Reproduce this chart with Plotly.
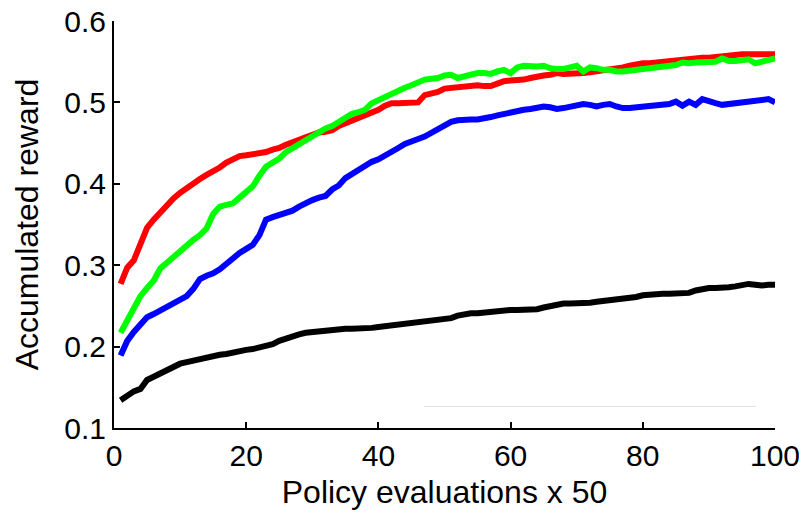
import plotly.graph_objects as go

x = list(range(1, 101))

red = [0.277, 0.297, 0.306, 0.328, 0.346, 0.356, 0.365, 0.372, 0.382, 0.389,
       0.395, 0.402, 0.406, 0.411, 0.415, 0.420, 0.426, 0.431, 0.434, 0.435,
       0.436, 0.437, 0.439, 0.442, 0.444, 0.448, 0.452, 0.454, 0.457, 0.461,
       0.463, 0.464, 0.466, 0.471, 0.474, 0.478, 0.481, 0.484, 0.488, 0.491,
       0.496, 0.499, 0.499, 0.499, 0.499, 0.500, 0.509, 0.511, 0.513, 0.517,
       0.518, 0.519, 0.519, 0.521, 0.521, 0.520, 0.520, 0.523, 0.526, 0.527,
       0.527, 0.528, 0.530, 0.532, 0.533, 0.534, 0.536, 0.535, 0.535, 0.535,
       0.536, 0.537, 0.538, 0.539, 0.540, 0.541, 0.543, 0.545, 0.547, 0.548,
       0.548, 0.549, 0.550, 0.550, 0.551, 0.552, 0.553, 0.554, 0.555, 0.555,
       0.556, 0.557, 0.558, 0.559, 0.559, 0.559, 0.559, 0.559, 0.559, 0.559]

green = [0.217, 0.232, 0.246, 0.262, 0.272, 0.281, 0.296, 0.303, 0.310, 0.319,
         0.326, 0.331, 0.337, 0.345, 0.363, 0.372, 0.374, 0.376, 0.383, 0.389,
         0.397, 0.410, 0.421, 0.426, 0.431, 0.439, 0.444, 0.449, 0.455, 0.460,
         0.464, 0.468, 0.471, 0.476, 0.481, 0.486, 0.488, 0.491, 0.499, 0.503,
         0.507, 0.511, 0.516, 0.518, 0.521, 0.525, 0.528, 0.529, 0.530, 0.533,
         0.534, 0.530, 0.532, 0.534, 0.536, 0.536, 0.535, 0.538, 0.540, 0.536,
         0.543, 0.545, 0.544, 0.544, 0.545, 0.542, 0.541, 0.541, 0.543, 0.545,
         0.538, 0.543, 0.542, 0.540, 0.540, 0.538, 0.538, 0.539, 0.541, 0.541,
         0.542, 0.543, 0.544, 0.545, 0.546, 0.549, 0.548, 0.549, 0.549, 0.550,
         0.550, 0.554, 0.551, 0.551, 0.552, 0.553, 0.548, 0.550, 0.552, 0.554]

blue = [0.189, 0.207, 0.218, 0.228, 0.236, 0.240, 0.244, 0.248, 0.253, 0.257,
        0.262, 0.271, 0.283, 0.287, 0.290, 0.295, 0.302, 0.307, 0.315, 0.320,
        0.325, 0.337, 0.356, 0.359, 0.362, 0.364, 0.367, 0.372, 0.377, 0.380,
        0.383, 0.385, 0.393, 0.398, 0.407, 0.412, 0.417, 0.424, 0.427, 0.430,
        0.434, 0.439, 0.444, 0.449, 0.453, 0.455, 0.458, 0.463, 0.467, 0.472,
        0.476, 0.478, 0.479, 0.479, 0.479, 0.480, 0.482, 0.484, 0.486, 0.488,
        0.490, 0.491, 0.492, 0.493, 0.495, 0.494, 0.492, 0.493, 0.495, 0.497,
        0.498, 0.497, 0.495, 0.497, 0.498, 0.495, 0.493, 0.493, 0.494, 0.494,
        0.495, 0.496, 0.497, 0.498, 0.501, 0.496, 0.501, 0.497, 0.504, 0.501,
        0.499, 0.497, 0.498, 0.500, 0.501, 0.502, 0.502, 0.503, 0.504, 0.500]

black = [0.134, 0.140, 0.145, 0.148, 0.159, 0.163, 0.167, 0.172, 0.176, 0.179,
         0.181, 0.183, 0.185, 0.187, 0.188, 0.190, 0.191, 0.193, 0.194, 0.196,
         0.197, 0.199, 0.201, 0.203, 0.207, 0.210, 0.212, 0.215, 0.217, 0.218,
         0.219, 0.220, 0.221, 0.221, 0.222, 0.222, 0.222, 0.222, 0.223, 0.224,
         0.225, 0.226, 0.228, 0.229, 0.230, 0.231, 0.232, 0.233, 0.233, 0.234,
         0.235, 0.238, 0.240, 0.241, 0.241, 0.242, 0.242, 0.243, 0.244, 0.245,
         0.245, 0.245, 0.245, 0.246, 0.248, 0.250, 0.252, 0.253, 0.253, 0.253,
         0.254, 0.254, 0.255, 0.256, 0.257, 0.257, 0.258, 0.260, 0.261, 0.263,
         0.264, 0.265, 0.265, 0.265, 0.265, 0.265, 0.266, 0.269, 0.271, 0.272,
         0.272, 0.272, 0.273, 0.274, 0.276, 0.277, 0.276, 0.275, 0.276, 0.276]

x_ticks = [0, 20, 40, 60, 80, 100]
y_ticks = [0.1, 0.2, 0.3, 0.4, 0.5, 0.6]
y_tick_labels = ["0.1", "0.2", "0.3", "0.4", "0.5", "0.6"]

series = [("black", black, "#000000"), ("blue", blue, "#0000ff"),
          ("red", red, "#ff0000"), ("green", green, "#00ff00")]

fig = go.Figure()
for name, ys, col in series:
    fig.add_trace(go.Scatter(x=x, y=ys, mode="lines", name=name,
                             line=dict(color=col, width=6), showlegend=False))

font_family = "Liberation Sans, Arial, Helvetica, sans-serif"

fig.update_layout(
    width=799, height=506,
    margin=dict(l=106, r=32, t=13, b=86),
    paper_bgcolor="white", plot_bgcolor="white",
    font=dict(family=font_family, color="black", size=30),
    xaxis=dict(range=[0, 100], tickvals=x_ticks, ticks="inside", ticklen=6,
               tickwidth=1.5, tickcolor="black", showline=True, linecolor="black",
               linewidth=2, showgrid=False, zeroline=False, automargin=False,
               ticklabeloverflow="allow", tickfont=dict(size=30),
               title=dict(text="Policy evaluations x 50", font=dict(size=32), standoff=10)),
    yaxis=dict(range=[0.1, 0.6], tickvals=y_ticks, ticktext=y_tick_labels,
               ticks="inside", ticklen=6, tickwidth=1.5, tickcolor="black",
               showline=True, linecolor="black", linewidth=2, showgrid=False,
               zeroline=False, automargin=False, ticklabeloverflow="allow",
               tickfont=dict(size=30),
               title=dict(text="Accumulated reward", font=dict(size=32), standoff=16)),
    shapes=[dict(type="line", xref="paper", yref="paper", x0=0.469, x1=0.971,
                 y0=0.053, y1=0.053, line=dict(color="#e0e0e0", width=1))],
)

fig.write_html("out.html")
